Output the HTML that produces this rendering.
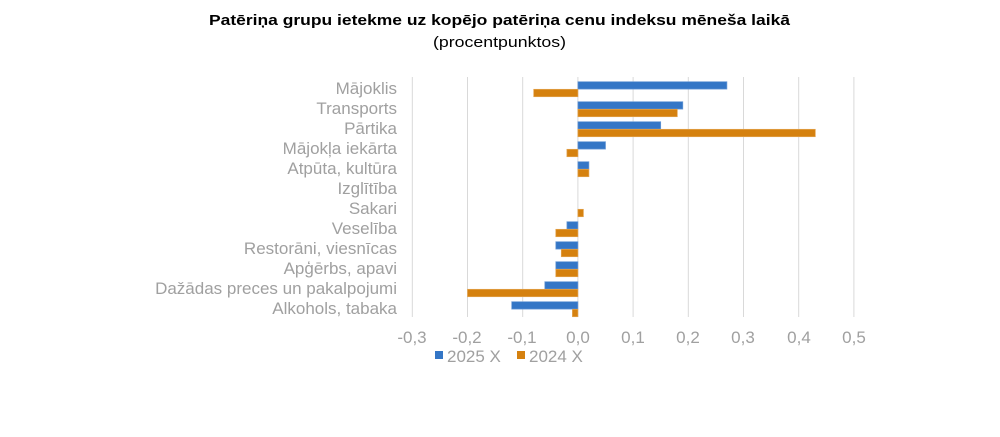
<!DOCTYPE html>
<html><head><meta charset="utf-8"><style>
body{margin:0;background:#fff;width:1000px;height:432px;overflow:hidden}
</style></head><body>
<svg width="1000" height="432" xmlns="http://www.w3.org/2000/svg" font-family="Liberation Sans, Arial, sans-serif">
<text x="209" y="25" font-size="15" font-weight="bold" fill="#000" textLength="581" lengthAdjust="spacingAndGlyphs">Patēriņa grupu ietekme uz kopējo patēriņa cenu indeksu mēneša laikā</text>
<text x="433" y="47" font-size="15" fill="#000" textLength="133" lengthAdjust="spacingAndGlyphs">(procentpunktos)</text>
<g stroke="#d9d9d9" stroke-width="1">
<line x1="412.3" y1="77" x2="412.3" y2="317"/><line x1="467.5" y1="77" x2="467.5" y2="317"/>
<line x1="522.7" y1="77" x2="522.7" y2="317"/><line x1="577.9" y1="77" x2="577.9" y2="317"/>
<line x1="633.1" y1="77" x2="633.1" y2="317"/><line x1="688.3" y1="77" x2="688.3" y2="317"/>
<line x1="743.5" y1="77" x2="743.5" y2="317"/><line x1="798.7" y1="77" x2="798.7" y2="317"/>
<line x1="853.9" y1="77" x2="853.9" y2="317"/>
</g>
<g fill="#3476c6" stroke="#6a9ad6" stroke-width="0.7">
<rect x="577.9" y="81.7" width="149" height="7.4"/>
<rect x="577.9" y="101.7" width="104.9" height="7.4"/>
<rect x="577.9" y="121.7" width="82.8" height="7.4"/>
<rect x="577.9" y="141.7" width="27.6" height="7.4"/>
<rect x="577.9" y="161.7" width="11" height="7.4"/>
<rect x="566.9" y="221.7" width="11" height="7.4"/>
<rect x="555.8" y="241.7" width="22.1" height="7.4"/>
<rect x="555.8" y="261.7" width="22.1" height="7.4"/>
<rect x="544.8" y="281.7" width="33.1" height="7.4"/>
<rect x="511.7" y="301.7" width="66.2" height="7.4"/>
</g>
<g fill="#d5810f" stroke="#e3a450" stroke-width="0.7">
<rect x="533.7" y="89.3" width="44.2" height="7.4"/>
<rect x="577.9" y="109.3" width="99.4" height="7.4"/>
<rect x="577.9" y="129.3" width="237.4" height="7.4"/>
<rect x="566.9" y="149.3" width="11" height="7.4"/>
<rect x="577.9" y="169.3" width="11" height="7.4"/>
<rect x="577.9" y="209.3" width="5.5" height="7.4"/>
<rect x="555.8" y="229.3" width="22.1" height="7.4"/>
<rect x="561.3" y="249.3" width="16.6" height="7.4"/>
<rect x="555.8" y="269.3" width="22.1" height="7.4"/>
<rect x="467.5" y="289.3" width="110.4" height="7.4"/>
<rect x="572.4" y="309.3" width="5.5" height="7.4"/>
</g>
<g font-size="17" fill="#a0a0a0" text-anchor="end">
<text x="397" y="94">Mājoklis</text>
<text x="397" y="114">Transports</text>
<text x="397" y="134">Pārtika</text>
<text x="397" y="154">Mājokļa iekārta</text>
<text x="397" y="174">Atpūta, kultūra</text>
<text x="397" y="194">Izglītība</text>
<text x="397" y="214">Sakari</text>
<text x="397" y="234">Veselība</text>
<text x="397" y="254">Restorāni, viesnīcas</text>
<text x="397" y="274">Apģērbs, apavi</text>
<text x="397" y="294">Dažādas preces un pakalpojumi</text>
<text x="397" y="314">Alkohols, tabaka</text>
</g>
<g font-size="17" fill="#a0a0a0" text-anchor="middle">
<text x="412" y="343">-0,3</text><text x="467" y="343">-0,2</text><text x="522" y="343">-0,1</text><text x="578" y="343">0,0</text>
<text x="633" y="343">0,1</text><text x="688" y="343">0,2</text><text x="743" y="343">0,3</text><text x="799" y="343">0,4</text><text x="854" y="343">0,5</text>
</g>
<rect x="435" y="351" width="8" height="8" fill="#3476c6"/>
<text x="447" y="362" font-size="17" fill="#a0a0a0">2025 X</text>
<rect x="517" y="351" width="8" height="8" fill="#d5810f"/>
<text x="529" y="362" font-size="17" fill="#a0a0a0">2024 X</text>
</svg>
</body></html>
